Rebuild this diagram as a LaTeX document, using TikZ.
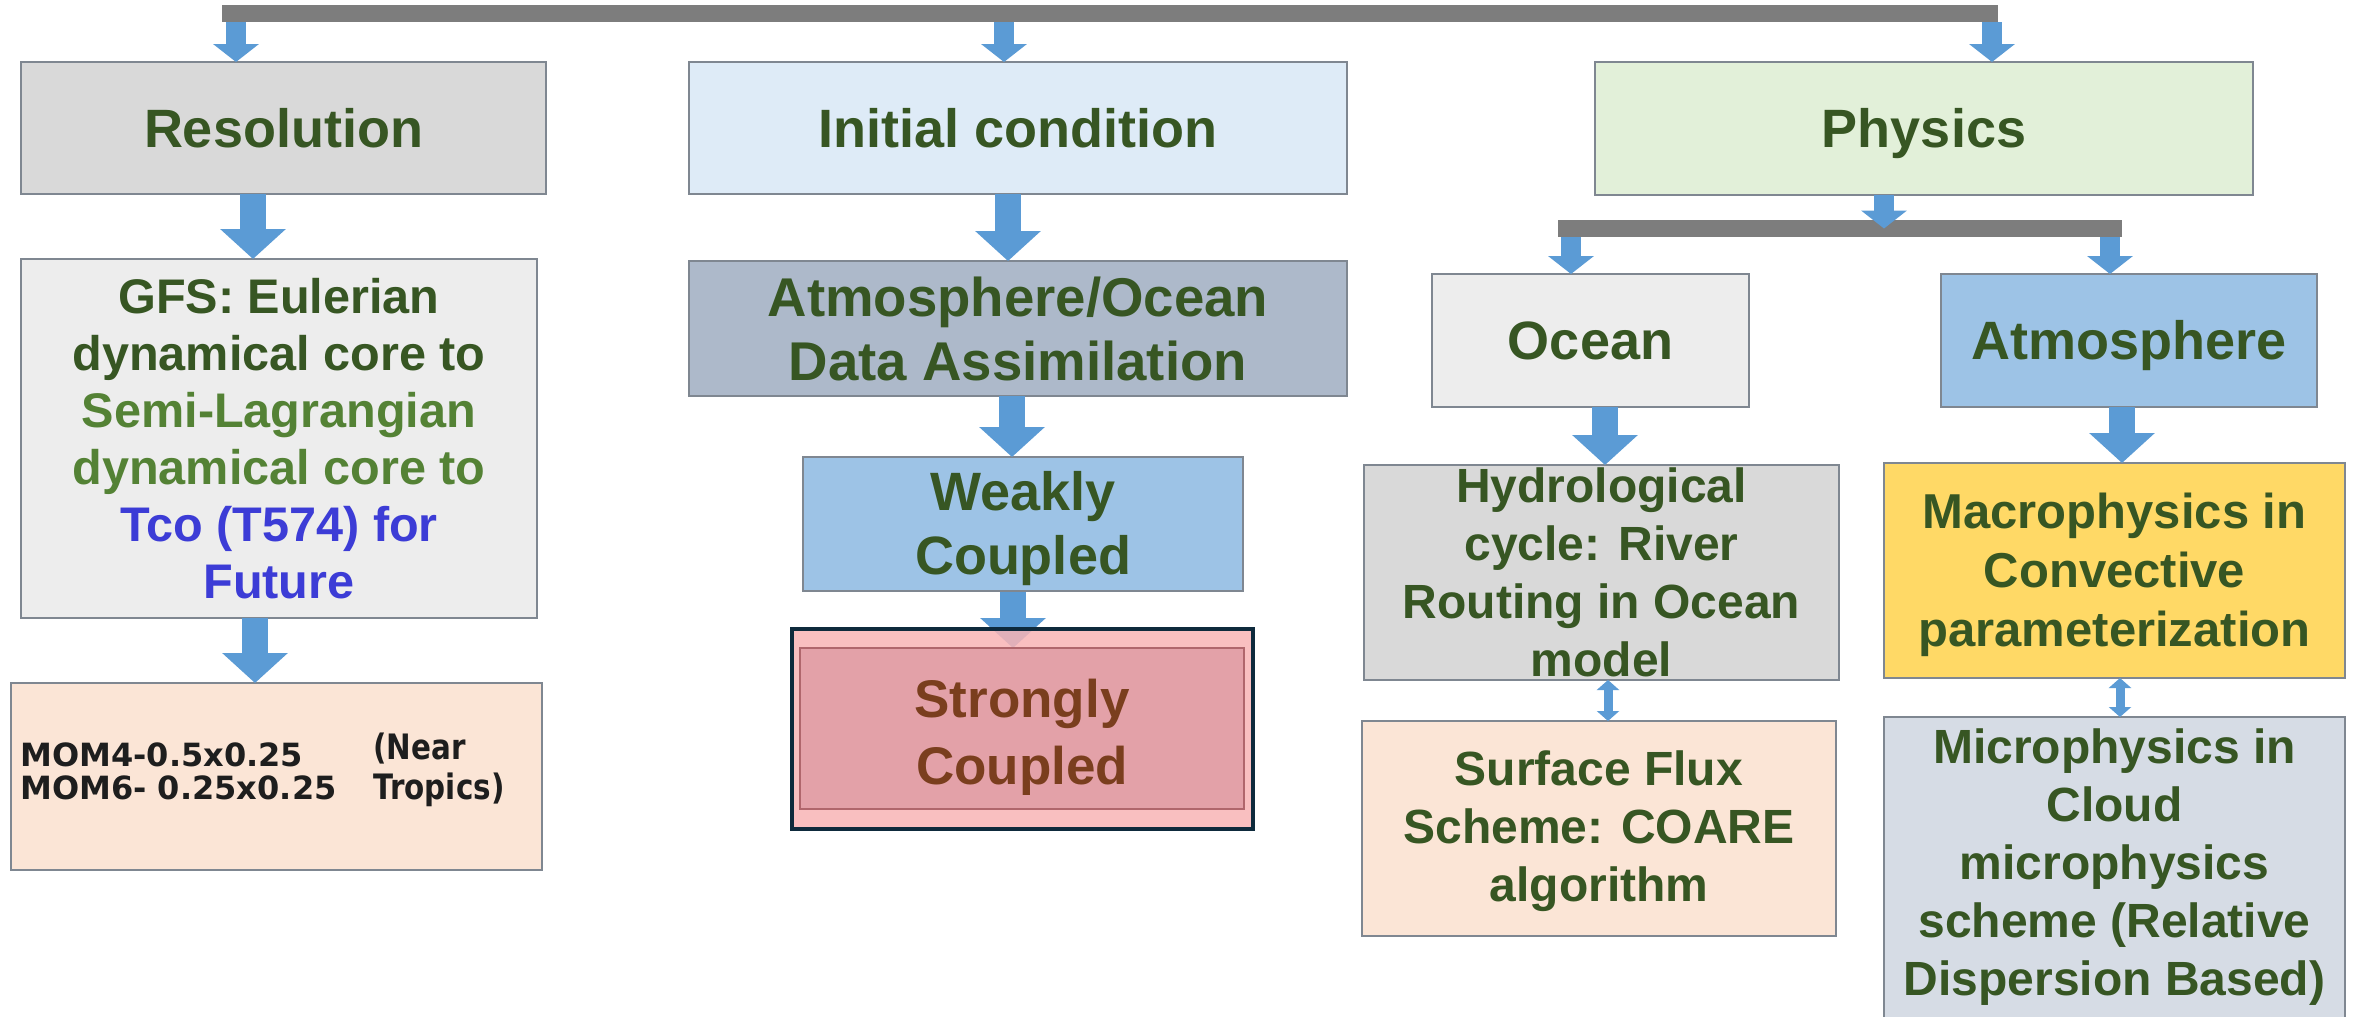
\documentclass[tikz,border=0pt]{standalone}
\usepackage{fontspec}
\setmainfont{Liberation Sans}
\newfontfamily\momfont{DejaVu Sans}
\newfontfamily\notefont{DejaVu Sans}[FakeStretch=0.84]
\usetikzlibrary{arrows.meta,fit,backgrounds}

\definecolor{dkgreen}{HTML}{375623}
\definecolor{olivegreen}{HTML}{548235}
\definecolor{tcoblue}{HTML}{3C3CD6}
\definecolor{brownred}{HTML}{7A3E1E}
\definecolor{boxline}{HTML}{7F8791}
\definecolor{bargray}{HTML}{7D7D7D}
\definecolor{arrowblue}{HTML}{5B9BD5}
\definecolor{navy}{HTML}{0E2A3C}
\definecolor{fillgray}{HTML}{D9D9D9}
\definecolor{filllight}{HTML}{EDEDED}
\definecolor{fillpeach}{HTML}{FBE5D6}
\definecolor{fillice}{HTML}{DEEBF7}
\definecolor{fillslate}{HTML}{ADB9CA}
\definecolor{fillsky}{HTML}{9DC3E6}
\definecolor{fillmint}{HTML}{E2F0D9}
\definecolor{fillgold}{HTML}{FFD966}
\definecolor{fillmist}{HTML}{D6DCE5}
\definecolor{fillrose}{HTML}{F9B4B5}
\definecolor{fillrosein}{HTML}{E09CA4}
\definecolor{roseline}{HTML}{B0666C}
\definecolor{notetext}{HTML}{1E1E1E}

\newcommand\setfs[2]{\fontsize{#1}{#2}\selectfont}

\tikzset{
  box/.style={draw=boxline, line width=1pt, inner sep=0pt, outer sep=0pt},
  lbl/.style={text=dkgreen, align=center, inner sep=0pt, font=\bfseries},
  single/.style={text height=19.4pt, text depth=0pt},
  bar/.style={fill=bargray, inner sep=0pt, outer sep=0pt},
  bigarrow/.style={draw=arrowblue, line width=13pt,
    -{Triangle[width=32pt,length=15pt]}},
  smallarrow/.style={draw=arrowblue, line width=10pt,
    -{Triangle[width=22.5pt,length=9pt]}},
  twoway/.style={draw=arrowblue, line width=4.5pt,
    {Triangle[width=11pt,length=5pt]}-{Triangle[width=11pt,length=5pt]}},
}

\begin{document}
\begin{tikzpicture}[x=0.5pt,y=-0.5pt]
\useasboundingbox (0,0) rectangle (2363,1017);
\begin{scope}[on background layer]
  \fill[white] (0,0) rectangle (2363,1017);
\end{scope}

% distribution bars
\node[bar, fit={(222,5) (1998,22)}] (topbar) {};
\node[bar, fit={(1558,220) (2122,237)}] (physbar) {};

% resolution column
\node[box, fill=fillgray, fit={(21,62) (546,194)}] (res) {};
\node[lbl, single, font=\bfseries\setfs{27}{31}] (resT) at (res) {Resolution};

\node[box, fill=filllight, fit={(21,259) (537,618)}] (gfs) {};
\node[lbl, font=\bfseries\setfs{24.3}{28.5}] (gfsT) at (gfs)
  {GFS: Eulerian\\dynamical core to\\
   \textcolor{olivegreen}{Semi-Lagrangian}\\
   \textcolor{olivegreen}{dynamical core to}\\
   \textcolor{tcoblue}{Tco (T574) for}\\
   \textcolor{tcoblue}{Future}};

\node[box, fill=fillpeach, fit={(11,683) (542,870)}] (mom) {};
\node[anchor=west, inner sep=0pt, align=left, text=notetext,
      font=\momfont\bfseries\setfs{16}{16.8}] (momL) at (20,771.5)
  {MOM4-0.5x0.25\\MOM6- 0.25x0.25};
\node[anchor=west, inner sep=0pt, align=left, text=notetext,
      font=\notefont\bfseries\setfs{17.5}{19.7}] (momR) at (373,770)
  {(Near\\Tropics)};

% initial condition column
\node[box, fill=fillice, fit={(689,62) (1347,194)}] (init) {};
\node[lbl, single, font=\bfseries\setfs{27}{31}] (initT) at (init) {Initial condition};

\node[box, fill=fillslate, fit={(689,261) (1347,396)}] (atmda) {};
\node[lbl, font=\bfseries\setfs{27.3}{32}] (atmdaT) at (atmda)
  {Atmosphere/Ocean\\Data Assimilation};

\node[box, fill=fillsky, fit={(803,457) (1243,591)}] (weak) {};
\node[lbl, font=\bfseries\setfs{27}{32}] (weakT) at ([yshift=-2.25pt]weak.center)
  {Weakly\\Coupled};

\node[draw=navy, line width=2.4pt, fill=fillrose, fill opacity=0.85,
      inner sep=0pt, outer sep=0pt, fit={(792,629) (1253,829)}] (strongO) {};
\node[draw=roseline, line width=1pt, fill=fillrosein, fill opacity=0.85,
      inner sep=0pt, outer sep=0pt, fit={(800,648) (1244,809)}] (strong) {};
\node[lbl, text=brownred, font=\bfseries\setfs{26.5}{33.5}] (strongT)
  at ([yshift=-4.5pt]strong.center) {Strongly\\Coupled};

% physics column
\node[box, fill=fillmint, fit={(1595,62) (2253,195)}] (phys) {};
\node[lbl, single, font=\bfseries\setfs{27}{31}] (physT) at (phys) {Physics};

\node[box, fill=filllight, fit={(1432,274) (1749,407)}] (ocean) {};
\node[lbl, single, font=\bfseries\setfs{27}{31}] (oceanT) at (ocean) {Ocean};

\node[box, fill=fillsky, fit={(1941,274) (2317,407)}] (atmo) {};
\node[lbl, single, font=\bfseries\setfs{27}{31}] (atmoT) at (atmo) {Atmosphere};

\node[box, fill=fillgray, fit={(1364,465) (1839,680)}] (hydro) {};
\node[lbl, font=\bfseries\setfs{24}{29}] (hydroT) at (hydro)
  {Hydrological\\cycle: River\\Routing in Ocean\\model};

\node[box, fill=fillpeach, fit={(1362,721) (1836,936)}] (surf) {};
\node[lbl, font=\bfseries\setfs{24}{29}] (surfT) at ([yshift=-1.5pt]surf.center)
  {Surface Flux\\Scheme: COARE\\algorithm};

\node[box, fill=fillgold, fit={(1884,463) (2345,678)}] (macro) {};
\node[lbl, font=\bfseries\setfs{24.5}{29.5}] (macroT) at ([yshift=-2pt]macro.center)
  {Macrophysics in\\Convective\\parameterization};

\node[box, fill=fillmist, fit={(1884,717) (2345,1030)}] (micro) {};
\node[lbl, font=\bfseries\setfs{24}{29}] (microT) at ([yshift=3.25pt]micro.center)
  {Microphysics in\\Cloud\\microphysics\\scheme (Relative\\Dispersion Based)};

% horizontal positions of the connectors
\coordinate (xRes) at (236,0);
\coordinate (xInit) at (1004,0);
\coordinate (xPhys) at (1992,0);
\coordinate (xGfs) at (253,0);
\coordinate (xMom) at (255,0);
\coordinate (xAtmda) at (1008,0);
\coordinate (xWeak) at (1012,0);
\coordinate (xStrong) at (1013,0);
\coordinate (xSplit) at (1884,0);
\coordinate (xOcean) at (1571,0);
\coordinate (xAtmo) at (2110,0);
\coordinate (xHydro) at (1605,0);
\coordinate (xMacro) at (2122,0);
\coordinate (xSurf) at (1608,0);
\coordinate (xMicro) at (2120,0);

% connectors
\draw[smallarrow] (topbar.south -| xRes) -- (res.north -| xRes);
\draw[smallarrow] (topbar.south -| xInit) -- (init.north -| xInit);
\draw[smallarrow] (topbar.south -| xPhys) -- (phys.north -| xPhys);
\draw[bigarrow] (res.south -| xGfs) -- (gfs.north -| xGfs);
\draw[bigarrow] (gfs.south -| xMom) -- (mom.north -| xMom);
\draw[bigarrow] (init.south -| xAtmda) -- (atmda.north -| xAtmda);
\draw[bigarrow] (atmda.south -| xWeak) -- (weak.north -| xWeak);
\begin{scope}[on background layer]
  \draw[bigarrow] (weak.south -| xStrong) -- (strong.north -| xStrong);
\end{scope}
\draw[smallarrow] (phys.south -| xSplit) -- (physbar.center -| xSplit);
\draw[smallarrow] (physbar.south -| xOcean) -- (ocean.north -| xOcean);
\draw[smallarrow] (physbar.south -| xAtmo) -- (atmo.north -| xAtmo);
\draw[bigarrow] (ocean.south -| xHydro) -- (hydro.north -| xHydro);
\draw[bigarrow] (atmo.south -| xMacro) -- (macro.north -| xMacro);
\draw[twoway] (hydro.south -| xSurf) -- (surf.north -| xSurf);
\draw[twoway] (macro.south -| xMicro) -- (micro.north -| xMicro);
\end{tikzpicture}
\end{document}
